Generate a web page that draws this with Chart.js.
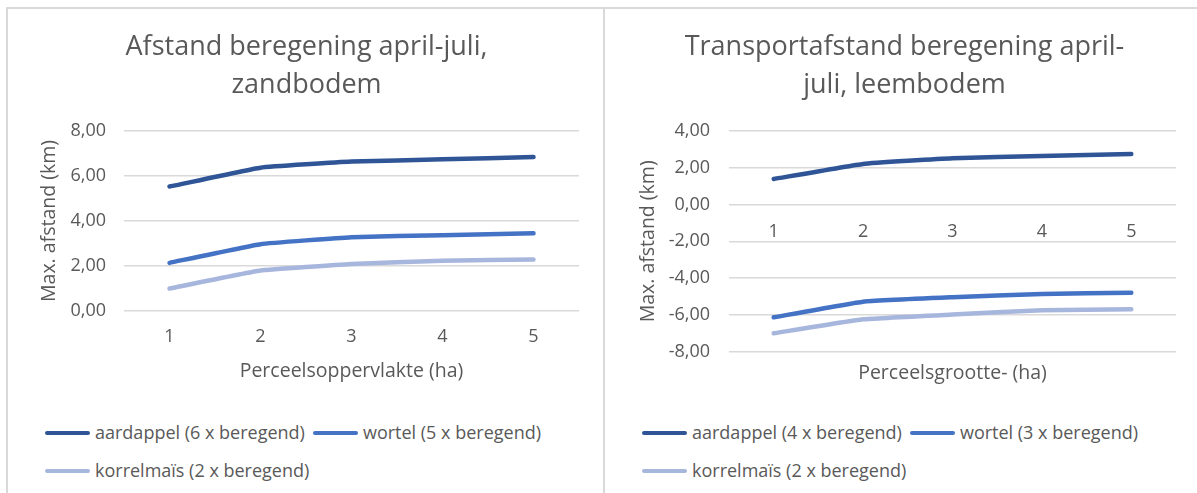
<!DOCTYPE html>
<html>
<head>
<meta charset="utf-8">
<script src="https://cdn.jsdelivr.net/npm/chart.js@4.4.0/dist/chart.umd.min.js"></script>
<style>
  body { margin: 0; background: #fff; width: 1197px; height: 493px; overflow: hidden; position: relative; font-family: "Open Sans", sans-serif; }
  .frame { position: absolute; left: 6px; top: 7px; width: 1191px; height: 486px; border-top: 2px solid #d9d9d9; border-left: 2px solid #d9d9d9; }
  .divider { position: absolute; left: 603px; top: 7px; width: 2px; height: 486px; background: #d9d9d9; }
  .panel { position: absolute; top: 10px; height: 390px; }
  #leftPanel { left: 8px; width: 595px; }
  #rightPanel { left: 606px; width: 591px; }
  .legend { position: absolute; top: 413px; font-size: 18px; color: #595959; line-height: 38px; }
  #leftLegend { left: 45px; width: 555px; }
  #rightLegend { left: 642px; width: 550px; }
  .item { display: inline-block; margin-right: 8px; white-space: nowrap; }
  .swatch { display: inline-block; width: 45px; height: 4px; border-radius: 2px; margin-right: 5px; vertical-align: middle; position: relative; top: -1px; }
</style>
</head>
<body>
<div class="frame"></div>
<div class="divider"></div>
<div class="panel" id="leftPanel"><canvas id="leftChart"></canvas></div>
<div class="panel" id="rightPanel"><canvas id="rightChart"></canvas></div>
<div class="legend" id="leftLegend"></div>
<div class="legend" id="rightLegend"></div>

<script>
// categories (perceel in ha)
const categories = ['1', '2', '3', '4', '5'];

// zandbodem
const zandAardappel = [5.53, 6.37, 6.64, 6.74, 6.84];
const zandWortel = [2.14, 2.97, 3.28, 3.37, 3.45];
const zandMais = [1.00, 1.80, 2.09, 2.23, 2.29];
const zandLabels = ['aardappel (6 x beregend)', 'wortel (5 x beregend)', 'korrelmaïs (2 x beregend)'];

// leembodem
const leemAardappel = [1.39, 2.21, 2.52, 2.64, 2.75];
const leemWortel = [-6.13, -5.28, -5.04, -4.86, -4.80];
const leemMais = [-7.00, -6.24, -5.98, -5.75, -5.69];
const leemLabels = ['aardappel (4 x beregend)', 'wortel (3 x beregend)', 'korrelmaïs (2 x beregend)'];

const lineColors = ['#2F5597', '#4472C4', '#A6B6DD'];
const textColor = '#595959';

Chart.defaults.font.family = '"Open Sans", sans-serif';
Chart.defaults.color = textColor;

function makeDatasets(labels, series) {
    return series.map((values, i) => ({
        label: labels[i],
        data: values,
        borderColor: lineColors[i],
        backgroundColor: lineColors[i],
        borderWidth: 4.5,
        borderCapStyle: 'round',
        borderJoinStyle: 'round',
        pointRadius: 0,
        tension: 0.1
    }));
}

function fmt(v) {
    return v.toFixed(2).replace('.', ',');
}

// HTML legend built from the chart's own datasets
function buildLegend(chart, containerId) {
    const box = document.getElementById(containerId);
    box.innerHTML = '';
    chart.data.datasets.forEach(ds => {
        const item = document.createElement('span');
        item.className = 'item';
        const sw = document.createElement('span');
        sw.className = 'swatch';
        sw.style.background = ds.borderColor;
        item.appendChild(sw);
        item.appendChild(document.createTextNode(ds.label));
        box.appendChild(item);
    });
}

const titleOpts = (text) => ({
    display: true,
    text: text,
    color: textColor,
    font: { size: 27, weight: 'normal', lineHeight: 1.407 },
    padding: { top: 18, bottom: 27 }
});

const tickFont = { size: 18 };
const axisTitleFont = { size: 19.5 };

// left chart: zandbodem
const leftChart = new Chart(document.getElementById('leftChart'), {
    type: 'line',
    data: {
        labels: categories,
        datasets: makeDatasets(zandLabels, [zandAardappel, zandWortel, zandMais])
    },
    options: {
        responsive: true,
        maintainAspectRatio: false,
        animation: false,
        layout: { padding: { left: 26, right: 24, top: 0, bottom: 0 } },
        plugins: {
            legend: { display: false },
            tooltip: { enabled: false },
            title: titleOpts(['Afstand beregening april-juli,', 'zandbodem'])
        },
        scales: {
            x: {
                offset: true,
                grid: { display: false, drawTicks: false },
                border: { display: false },
                ticks: { padding: 15, font: tickFont, color: textColor },
                title: { display: true, text: 'Perceelsoppervlakte (ha)', font: axisTitleFont, color: textColor, padding: { top: 4, bottom: 17.3 } },
                afterFit: (s) => { s.height = 89; }
            },
            y: {
                min: 0,
                max: 8,
                grid: { color: '#D9D9D9', lineWidth: 1.5, drawTicks: false },
                border: { display: false },
                ticks: { stepSize: 2, padding: 18, font: tickFont, color: textColor, callback: (v) => fmt(v) },
                title: { display: true, text: 'Max. afstand (km)', font: axisTitleFont, color: textColor, padding: { top: 4, bottom: 0 } },
                afterFit: (s) => { s.width = 90; }
            }
        }
    }
});

// right chart: leembodem
const rightChart = new Chart(document.getElementById('rightChart'), {
    type: 'line',
    data: {
        labels: categories,
        datasets: makeDatasets(leemLabels, [leemAardappel, leemWortel, leemMais])
    },
    options: {
        responsive: true,
        maintainAspectRatio: false,
        animation: false,
        layout: { padding: { left: 27, right: 21, top: 0, bottom: 0 } },
        plugins: {
            legend: { display: false },
            tooltip: { enabled: false },
            title: titleOpts(['Transportafstand beregening april-', 'juli, leembodem'])
        },
        scales: {
            x: {
                offset: true,
                grid: { display: false, drawTicks: false },
                border: { display: false },
                ticks: { display: false },
                title: { display: true, text: 'Perceelsgrootte- (ha)', font: axisTitleFont, color: textColor, padding: { top: 4, bottom: 15.3 } },
                afterFit: (s) => { s.height = 48.3; }
            },
            xZero: {
                type: 'category',
                axis: 'x',
                position: { y: 0 },
                offset: true,
                grid: { display: false, drawTicks: false },
                border: { display: false },
                ticks: { padding: 16.5, font: tickFont, color: textColor }
            },
            y: {
                min: -8,
                max: 4,
                grid: { color: '#D9D9D9', lineWidth: 1.5, drawTicks: false },
                border: { display: false },
                ticks: { stepSize: 2, padding: 19, font: tickFont, color: textColor, callback: (v) => fmt(v) },
                title: { display: true, text: 'Max. afstand (km)', font: axisTitleFont, color: textColor, padding: { top: 4, bottom: 0 } },
                afterFit: (s) => { s.width = 96; }
            }
        }
    }
});

buildLegend(leftChart, 'leftLegend');
buildLegend(rightChart, 'rightLegend');
</script>
</body>
</html>
